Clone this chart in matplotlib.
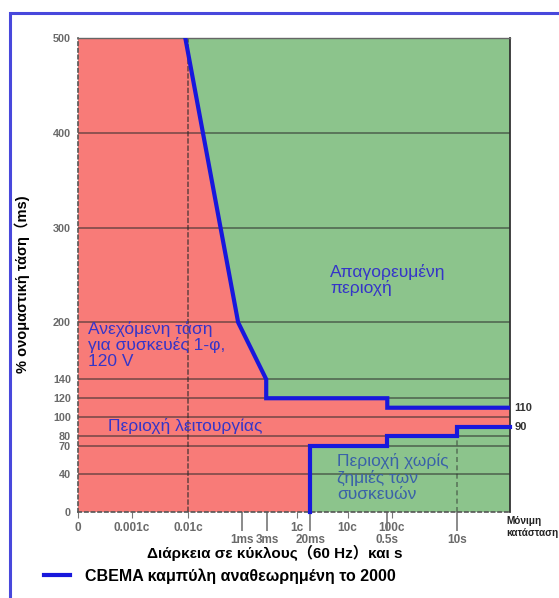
import matplotlib
matplotlib.use('Agg')
import matplotlib.pyplot as plt
from matplotlib.patches import Rectangle

plt.rcParams['font.family'] = ['Liberation Sans', 'Noto Sans CJK SC', 'DejaVu Sans']

# ------------------------------------------------------------------
# data (x in schematic duration positions, y in % nominal voltage)
# ------------------------------------------------------------------
x_end = 7.85
upper_x = [1.95, 2.91, 3.42, 3.42, 5.62, 5.62, x_end]
upper_y = [500, 200, 140, 120, 120, 110, 110]
lower_x = [4.22, 4.22, 5.62, 5.62, 6.89, 6.89, x_end]
lower_y = [0, 70, 70, 80, 80, 90, 90]

y_ticks = [0, 40, 70, 80, 100, 120, 140, 200, 300, 400, 500]
x_row1 = [0, 0.98, 2.0, 3.98, 4.9, 5.7]
x_row1_labels = ['0', '0.001c', '0.01c', '1c', '10c', '100c']
x_row2 = [2.98, 3.44, 4.22, 5.62, 6.89]
x_row2_labels = ['1ms', '3ms', '20ms', '0.5s', '10s']

red = '#f87b78'
green = '#8cc48c'
blue = '#1818dc'
tick_grey = '#6a6a6a'

fig = plt.figure(figsize=(5.59, 5.98), dpi=100)
ax = fig.add_axes([78 / 559, 1 - 512 / 598, 432 / 559, 474 / 598])
ax.set_xlim(0, x_end)
ax.set_ylim(0, 500)

# background regions
ax.set_facecolor(green)
red_x = [0, 0] + upper_x + lower_x[::-1]
red_y = [0, 500] + upper_y + lower_y[::-1]
ax.fill(red_x, red_y, color=red, lw=0, zorder=1)

# grid
for v in y_ticks[1:]:
    ax.axhline(v, color='#2a2a2a', alpha=0.55, lw=1.3, zorder=2)
ax.axvline(2.0, color='#2a2a2a', alpha=0.6, lw=1.3, ls=(0, (3, 1)), zorder=2)
ax.vlines(6.89, 0, 80, color='#2a2a2a', alpha=0.5, lw=1.2, ls=(0, (3, 2)), zorder=2)

# CBEMA curve
line, = ax.plot(upper_x, upper_y, color=blue, lw=3, zorder=4, solid_joinstyle='miter',
                label='CBEMA καμπύλη αναθεωρημένη το 2000')
ax.plot(lower_x, lower_y, color=blue, lw=3, zorder=4, solid_joinstyle='miter', clip_on=False)

# spines
for s in ['left', 'bottom']:
    ax.spines[s].set_linestyle((0, (2, 2)))
    ax.spines[s].set_color('#555555')
    ax.spines[s].set_linewidth(1.2)
ax.spines['right'].set_color('#333333')
ax.spines['right'].set_linewidth(1.3)
ax.spines['top'].set_color('#666666')
ax.spines['top'].set_linewidth(1.0)

# ticks
ax.set_yticks(y_ticks)
ax.set_yticklabels([str(v) for v in y_ticks], fontsize=7.8, fontweight='bold', color=tick_grey)
ax.tick_params(axis='y', length=0, pad=5)
ax.xaxis.remove_overlapping_locs = False
ax.set_xticks(x_row1)
ax.set_xticklabels(x_row1_labels, fontsize=8.5, fontweight='bold', color=tick_grey)
ax.set_xticks(x_row2, minor=True)
ax.set_xticklabels(x_row2_labels, minor=True, fontsize=8.5, fontweight='bold', color=tick_grey)
ax.tick_params(axis='x', which='major', length=4, color='#777777', pad=3)
ax.tick_params(axis='x', which='minor', length=14, width=1.2, color='#777777', pad=2)

# right-side labels
ax.text(x_end + 0.08, 110, '110', fontsize=8, fontweight='bold', color='#333333', va='center')
ax.text(x_end + 0.08, 90, '90', fontsize=8, fontweight='bold', color='#333333', va='center')
ax.text(x_end - 0.06, -4, 'Μόνιμη\nκατάσταση', fontsize=7.2, fontweight='bold', color='#222222',
        va='top', ha='left', linespacing=1.3, clip_on=False)

# region annotations
txt = dict(fontsize=12.5, ha='left', linespacing=1.05, zorder=5)
ax.text(4.58, 262, 'Απαγορευμένη\nπεριοχή', color='#3535c8', va='top', **txt)
ax.text(0.18, 202, 'Ανεχόμενη τάση\nγια συσκευές 1-φ,\n120 V', color='#3535c8', va='top', **txt)
ax.text(0.55, 91, 'Περιοχή λειτουργίας', color='#3535c8', va='center', **txt)
ax.text(4.71, 62, 'Περιοχή χωρίς\nζημιές των\nσυσκευών', color='#3a62a8', va='top', **txt)

# axis labels
ax.set_ylabel('% ονομαστική τάση（ms)', fontsize=10.5, fontweight='bold')
ax.yaxis.set_label_coords(-0.112, 0.48)
fig.text(275 / 559, 1 - 553 / 598, 'Διάρκεια σε κύκλους（60 Hz）και s', fontsize=11,
         fontweight='bold', ha='center', va='center')

# legend
fig.legend(handles=[line], loc='center left', bbox_to_anchor=(44 / 559, 1 - 576 / 598),
           frameon=False, prop={'weight': 'bold', 'size': 11.5}, borderpad=0, borderaxespad=0,
           handlelength=1.6, handletextpad=0.95)

# outer frame
fig.patches.append(Rectangle((10 / 559, -0.1), 1.2, 1.1 - 13 / 598, transform=fig.transFigure,
                             fill=False, edgecolor='#4848dc', lw=2.2))

fig.savefig('out.png', dpi=100)
